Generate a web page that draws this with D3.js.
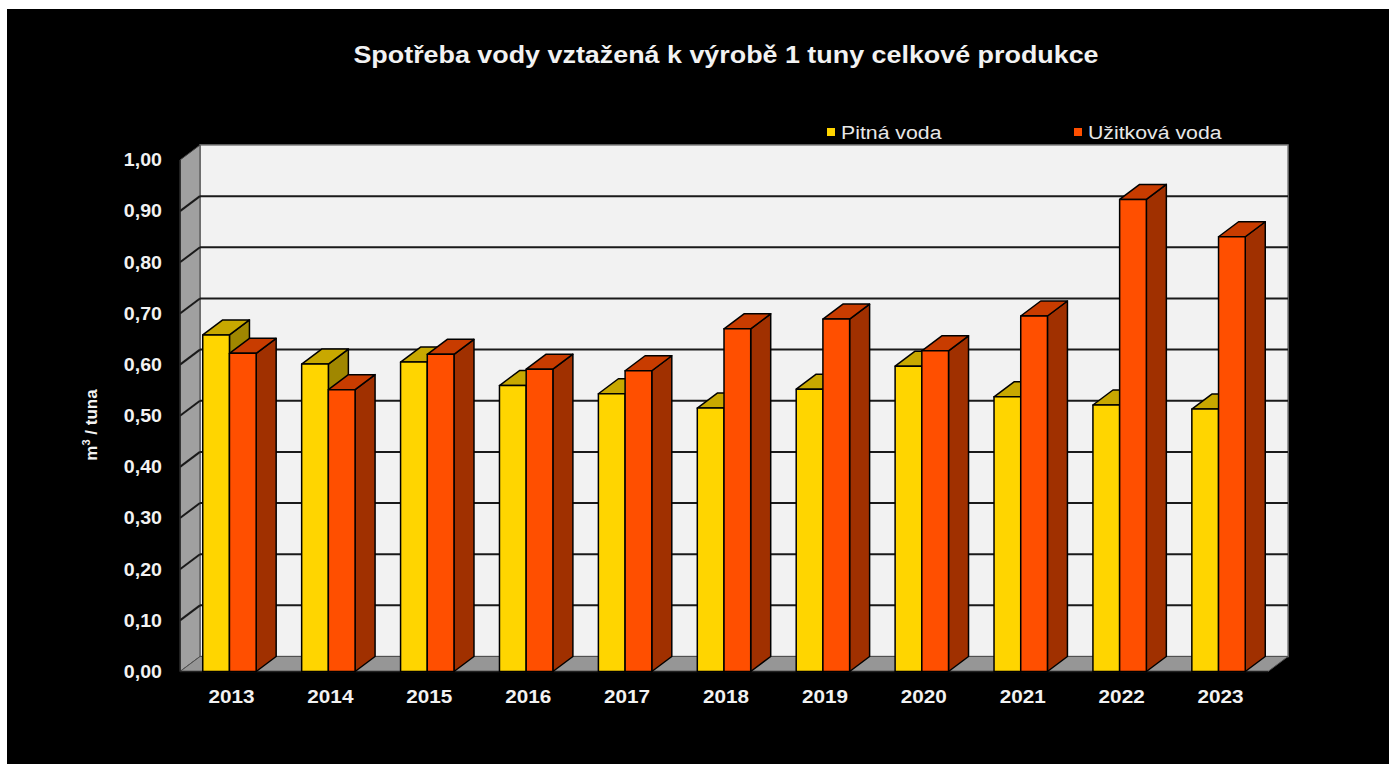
<!DOCTYPE html>
<html>
<head>
<meta charset="utf-8">
<script src="https://cdn.jsdelivr.net/npm/d3@7"></script>
<style>
  body { margin: 0; background: #fff; }
  text { font-family: "Liberation Sans", Arial, sans-serif; }
</style>
</head>
<body>
<script>
"use strict";
// data
var years = ["2013", "2014", "2015", "2016", "2017", "2018", "2019", "2020", "2021", "2022", "2023"];
var seriesNames = ["Pitná voda", "Užitková voda"];
var pitna = [0.658, 0.601, 0.605, 0.559, 0.543, 0.515, 0.552, 0.597, 0.537, 0.521, 0.513];
var uzitkova = [0.622, 0.551, 0.620, 0.591, 0.588, 0.670, 0.689, 0.627, 0.695, 0.923, 0.850];
var yTicks = [0, 0.1, 0.2, 0.3, 0.4, 0.5, 0.6, 0.7, 0.8, 0.9, 1.0];

(function () {
  var W = 1389, H = 764;
  var depth = {dx: 20, dy: -15};
  var plot = {left: 180, right: 1268, top: 160, bottom: 671.5};
  var stretch = 1.12; // the original text is a bit wider than the font

  var colors = [
    {front: "#ffd500", top: "#c8a800", side: "#a08700"},
    {front: "#ff4f00", top: "#c83c00", side: "#a03000"}
  ];

  function at(px, py) {
    return "translate(" + px + "," + py + ") scale(" + stretch + ",1)";
  }

  var svg = d3.select("body").append("svg")
    .attr("width", W)
    .attr("height", H);

  // black panel (white edge at top and left)
  svg.append("rect")
    .attr("x", 7).attr("y", 9)
    .attr("width", W - 7).attr("height", H - 9)
    .attr("fill", "#000");

  var x = d3.scaleBand().domain(years)
    .range([plot.left, plot.right])
    .paddingInner(0.46).paddingOuter(0.23);
  var xs = d3.scaleBand().domain(seriesNames).range([0, x.bandwidth()]);
  var y = d3.scaleLinear().domain([0, 1]).range([plot.bottom, plot.top]);

  var y0 = y(0), y1 = y(1);

  // back wall
  svg.append("polygon")
    .attr("points", [[plot.left + depth.dx, y1 + depth.dy], [plot.right + depth.dx, y1 + depth.dy],
      [plot.right + depth.dx, y0 + depth.dy], [plot.left + depth.dx, y0 + depth.dy]].join(" "))
    .attr("fill", "#f2f2f2")
    .attr("stroke", "#808080")
    .attr("stroke-width", 1.5);

  // side wall
  svg.append("polygon")
    .attr("points", [[plot.left, y1], [plot.left + depth.dx, y1 + depth.dy],
      [plot.left + depth.dx, y0 + depth.dy], [plot.left, y0]].join(" "))
    .attr("fill", "#a0a0a0")
    .attr("stroke", "#404040")
    .attr("stroke-width", 1);

  // floor
  svg.append("polygon")
    .attr("points", [[plot.left, y0], [plot.right, y0],
      [plot.right + depth.dx, y0 + depth.dy], [plot.left + depth.dx, y0 + depth.dy]].join(" "))
    .attr("fill", "#969696")
    .attr("stroke", "#505050")
    .attr("stroke-width", 1);

  // gridlines on back and side walls
  var grid = svg.append("g");
  yTicks.filter(function (t) { return t > 0 && t < 1; }).forEach(function (t) {
    grid.append("line")
      .attr("x1", plot.left + depth.dx).attr("x2", plot.right + depth.dx)
      .attr("y1", y(t) + depth.dy).attr("y2", y(t) + depth.dy)
      .attr("stroke", "#1a1a1a").attr("stroke-width", 2);
    grid.append("line")
      .attr("x1", plot.left).attr("x2", plot.left + depth.dx)
      .attr("y1", y(t)).attr("y2", y(t) + depth.dy)
      .attr("stroke", "#1a1a1a").attr("stroke-width", 2);
  });

  // front axis line
  svg.append("line")
    .attr("x1", plot.left).attr("x2", plot.left)
    .attr("y1", y1).attr("y2", y0)
    .attr("stroke", "#222").attr("stroke-width", 1.5);
  svg.append("line")
    .attr("x1", plot.left).attr("x2", plot.right)
    .attr("y1", y0).attr("y2", y0)
    .attr("stroke", "#222").attr("stroke-width", 1.5);

  // bars
  var bars = svg.append("g")
    .attr("stroke", "#000")
    .attr("stroke-width", 1.5)
    .attr("stroke-linejoin", "round");

  var values = [pitna, uzitkova];
  years.forEach(function (yr, i) {
    seriesNames.forEach(function (s, k) {
      var v = values[k][i];
      var bx = x(yr) + xs(s), w = xs.bandwidth();
      var by = y(v);
      var c = colors[k];
      bars.append("polygon")
        .attr("points", [[bx + w, by], [bx + w + depth.dx, by + depth.dy],
          [bx + w + depth.dx, y0 + depth.dy], [bx + w, y0]].join(" "))
        .attr("fill", c.side);
      bars.append("polygon")
        .attr("points", [[bx, by], [bx + w, by],
          [bx + w + depth.dx, by + depth.dy], [bx + depth.dx, by + depth.dy]].join(" "))
        .attr("fill", c.top);
      bars.append("rect")
        .attr("x", bx).attr("y", by)
        .attr("width", w).attr("height", y0 - by)
        .attr("fill", c.front);
    });
  });

  // y tick labels
  svg.append("g").selectAll("text")
    .data(yTicks)
    .enter().append("text")
    .attr("transform", function (d) { return at(162, y(d)); })
    .attr("dy", "0.36em")
    .attr("text-anchor", "end")
    .attr("fill", "#f2f2f2")
    .attr("font-weight", "bold")
    .attr("font-size", "17.5px")
    .text(function (d) { return d3.format(".2f")(d).replace(".", ","); });

  // x labels
  svg.append("g").selectAll("text")
    .data(years)
    .enter().append("text")
    .attr("transform", function (d) { return at(x(d) + x.bandwidth() / 2 + 2, 703); })
    .attr("text-anchor", "middle")
    .attr("fill", "#f2f2f2")
    .attr("font-weight", "bold")
    .attr("font-size", "18.5px")
    .text(function (d) { return d; });

  // y axis title
  var yt = svg.append("text")
    .attr("transform", "translate(97,425) rotate(-90)")
    .attr("text-anchor", "middle")
    .attr("fill", "#f2f2f2")
    .attr("font-weight", "bold")
    .attr("font-size", "17px");
  yt.append("tspan").text("m");
  yt.append("tspan").attr("font-size", "11px").attr("dy", "-0.6em").text("3");
  yt.append("tspan").attr("dy", "0.4em").text(" / tuna");

  // title
  svg.append("text")
    .attr("transform", at(726, 63))
    .attr("text-anchor", "middle")
    .attr("fill", "#f2f2f2")
    .attr("font-weight", "bold")
    .attr("font-size", "24px")
    .text("Spotřeba vody vztažená k výrobě 1 tuny celkové produkce");

  // legend
  var legendX = [827, 1074];
  var legend = svg.append("g");
  seriesNames.forEach(function (s, k) {
    legend.append("rect")
      .attr("x", legendX[k]).attr("y", 128)
      .attr("width", 8).attr("height", 8)
      .attr("fill", colors[k].front);
    legend.append("text")
      .attr("transform", at(legendX[k] + 14, 138.5))
      .attr("fill", "#e8e8e8")
      .attr("font-size", "19px")
      .text(s);
  });
})();
</script>
</body>
</html>
